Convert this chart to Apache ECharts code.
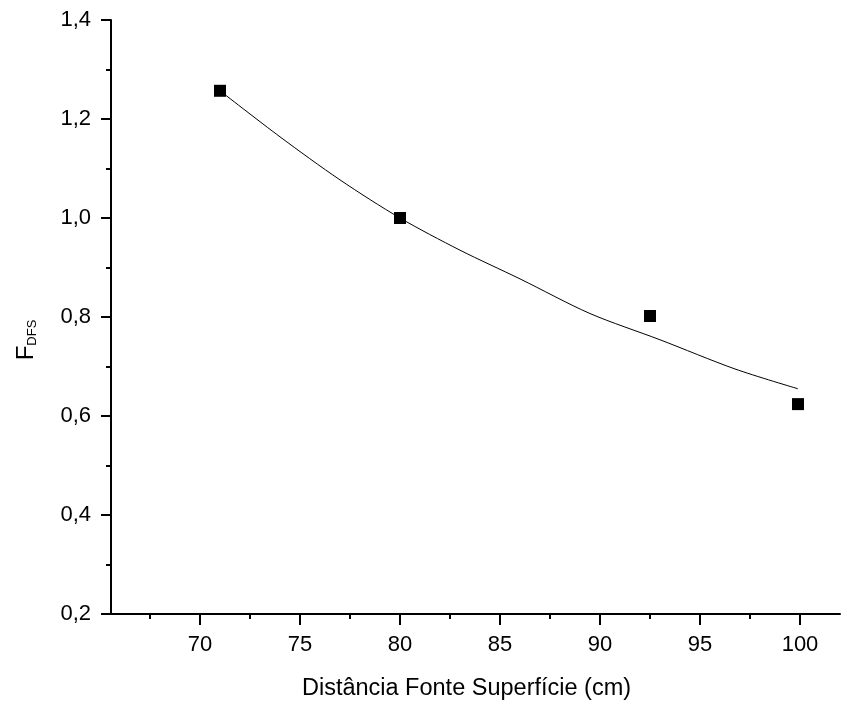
<!DOCTYPE html>
<html>
<head>
<meta charset="utf-8">
<script src="https://cdn.jsdelivr.net/npm/echarts@6/dist/echarts.min.js"></script>
<style>html,body{margin:0;padding:0;background:#fff}#c{width:841px;height:708px}</style>
</head>
<body>
<div id="c"></div>
<script>
// Measured points
var pointX = [71, 80, 92.5, 99.9];
var pointY = [1.257, 1.0, 0.802, 0.624];
// Fitted curve
var curveX = [71, 74, 77, 80, 83, 86, 89.5, 93, 96.75, 99.9];
var curveY = [1.257, 1.164, 1.077, 1.0, 0.935, 0.877, 0.807, 0.754, 0.695, 0.655];
// Tick values
var xMajorTicks = [70, 75, 80, 85, 90, 95, 100];
var xMinorTicks = [67.5, 72.5, 77.5, 82.5, 87.5, 92.5, 97.5];

var FONT = '"Liberation Sans", Arial, sans-serif';
function zip(a, b) { return a.map(function (v, i) { return [v, b[i]]; }); }

var chart = echarts.init(document.getElementById('c'));
chart.setOption({
  animation: false,
  backgroundColor: '#fff',
  grid: { left: 111, right: 1, top: 20, bottom: 94 },
  xAxis: [{
    type: 'value', min: 65.55, max: 102,
    name: 'Distância Fonte Superfície (cm)',
    nameLocation: 'middle', nameGap: 63,
    nameTextStyle: { fontFamily: FONT, fontSize: 23.5, color: '#000', padding: [0, 18, 0, 0] },
    axisLine: { onZero: false, lineStyle: { color: '#000', width: 2 } },
    axisTick: { customValues: xMajorTicks, length: 11, inside: false, lineStyle: { color: '#000', width: 2 } },
    axisLabel: { customValues: xMajorTicks, margin: 20, fontFamily: FONT, fontSize: 22, color: '#000' },
    splitLine: { show: false }
  }, {
    type: 'value', min: 65.55, max: 102, position: 'bottom',
    axisLine: { show: false },
    axisTick: { customValues: xMinorTicks, length: 5, lineStyle: { color: '#000', width: 2 } },
    axisLabel: { show: false },
    splitLine: { show: false }
  }],
  yAxis: {
    type: 'value', min: 0.2, max: 1.4, interval: 0.2,
    name: '{f|F}{s|DFS}',
    nameLocation: 'middle', nameGap: 72, nameRotate: 90,
    nameTextStyle: {
      fontFamily: FONT, color: '#000', padding: [0, 46, 0, 0],
      rich: {
        f: { fontFamily: FONT, fontSize: 24, color: '#000' },
        s: { fontFamily: FONT, fontSize: 13, color: '#000', verticalAlign: 'bottom', padding: [12, 0, 0, 0] }
      }
    },
    axisLine: { onZero: false, lineStyle: { color: '#000', width: 2 } },
    axisTick: { length: 10, lineStyle: { color: '#000', width: 2 } },
    minorTick: { show: true, splitNumber: 2, length: 5, lineStyle: { color: '#000', width: 2 } },
    axisLabel: {
      margin: 20, fontFamily: FONT, fontSize: 22, color: '#000',
      formatter: function (v) { return v.toFixed(1).replace('.', ','); }
    },
    splitLine: { show: false }
  },
  series: [{
    type: 'line', xAxisIndex: 0,
    data: zip(curveX, curveY),
    smooth: 0.3, showSymbol: false, symbol: 'none',
    lineStyle: { color: '#000', width: 1 },
    z: 2
  }, {
    type: 'scatter', xAxisIndex: 0,
    data: zip(pointX, pointY),
    symbol: 'rect', symbolSize: 12,
    itemStyle: { color: '#000', opacity: 1 },
    z: 3
  }]
});
</script>
</body>
</html>
